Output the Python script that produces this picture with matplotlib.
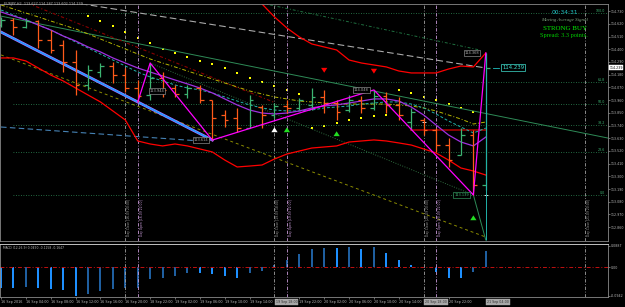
import matplotlib
matplotlib.use("Agg")
import matplotlib.pyplot as plt
import numpy as np

nan = np.nan

# EURJPY H2 bars (16 Sep 2016 00:00 .. 21 Sep 2016 04:00)
opens = [114.610, 114.654, 114.593, 114.645, 114.481, 114.437, 114.290, 114.091, 114.203, 114.255,
         114.177, 114.065, 114.004, 114.151, 114.065, 114.013, 114.065, 113.961, 113.831, 113.805,
         113.718, 113.900, 113.831, 113.909, 113.892, 113.918, 113.987, 113.935, 113.874, 113.961,
         113.892, 113.996, 113.918, 113.770, 113.788, 113.701, 113.571, 113.485, 113.658, 113.225]
highs = [114.680, 114.671, 114.671, 114.654, 114.567, 114.481, 114.394, 114.264, 114.281, 114.290,
         114.238, 114.134, 114.281, 114.203, 114.091, 114.091, 114.091, 113.961, 113.874, 113.892,
         114.004, 113.918, 113.935, 113.961, 113.978, 114.065, 114.048, 113.961, 114.004, 113.996,
         114.048, 114.030, 113.987, 113.892, 113.805, 113.718, 113.632, 113.718, 113.701, 114.368]
lows = [114.593, 114.524, 114.584, 114.411, 114.368, 114.203, 114.004, 114.048, 114.160, 114.108,
        114.030, 113.944, 113.961, 113.987, 113.987, 113.978, 113.935, 113.614, 113.727, 113.684,
        113.718, 113.718, 113.805, 113.848, 113.874, 113.874, 113.848, 113.788, 113.857, 113.848,
        113.874, 113.848, 113.788, 113.701, 113.658, 113.511, 113.381, 113.485, 113.139, 113.181]
closes = [114.654, 114.593, 114.645, 114.481, 114.394, 114.290, 114.091, 114.221, 114.255, 114.177,
          114.065, 113.996, 114.151, 114.048, 114.013, 114.065, 113.961, 113.805, 113.788, 113.718,
          113.961, 113.831, 113.909, 113.892, 113.961, 113.987, 113.935, 113.857, 113.961, 113.892,
          113.996, 113.918, 113.831, 113.857, 113.701, 113.571, 113.441, 113.658, 113.225, 114.239]

# envelope bands (red)
band_upper = [nan] * 19 + [115.044, 114.931, 114.792, 114.680, 114.584, 114.507, 114.446, 114.420,
                           114.394, 114.307, 114.281, 114.264, 114.247, 114.212, 114.195, 114.195,
                           114.195, 114.229, 114.255, 114.247, 114.368]
band_lower = [114.325, 114.325, 114.299, 114.238, 114.177, 114.126, 114.065, 114.004, 113.944, 113.866,
              113.788, 113.606, 113.580, 113.563, 113.580, 113.563, 113.537, 113.511, 113.441, 113.381,
              113.389, 113.398, 113.450, 113.493, 113.519, 113.545, 113.554, 113.563, 113.597, 113.606,
              113.615, 113.606, 113.589, 113.571, 113.537, 113.502, 113.441, 113.372, 113.346, 113.311]
maroon_bars = [33, 39]
maroon_level = 113.701

# moving averages
ma_violet = [114.723, 114.688, 114.654, 114.610, 114.567, 114.515, 114.472, 114.420, 114.377, 114.325,
             114.281, 114.238, 114.203, 114.169, 114.134, 114.100, 114.065, 114.022, 113.970, 113.918,
             113.874, 113.848, 113.840, 113.848, 113.866, 113.892, 113.909, 113.918, 113.935, 113.952,
             113.970, 113.970, 113.952, 113.900, 113.831, 113.744, 113.658, 113.597, 113.563, 113.640]
ma_cyan = [114.740, 114.697, 114.654, 114.610, 114.567, 114.515, 114.463, 114.411, 114.359, 114.307,
           114.255, 114.203, 114.160, 114.126, 114.091, 114.065, 114.048, 114.022, 113.987, 113.952,
           113.918, 113.892, 113.874, 113.866, 113.866, 113.874, 113.892, 113.900, 113.909, 113.926,
           113.935, 113.944, 113.944, 113.926, 113.892, 113.840, 113.779, 113.727, 113.675, 113.718]
ma_olive = [114.784, 114.749, 114.714, 114.680, 114.645, 114.610, 114.576, 114.533, 114.489, 114.446,
            114.403, 114.359, 114.316, 114.281, 114.247, 114.212, 114.177, 114.143, 114.108, 114.074,
            114.039, 114.013, 113.987, 113.970, 113.952, 113.944, 113.935, 113.926, 113.926, 113.926,
            113.926, 113.926, 113.918, 113.909, 113.892, 113.866, 113.831, 113.796, 113.753, 113.770]

# parabolic sar
sar = [nan] * 7 + [114.688, 114.645, 114.602, 114.550, 114.498, 114.455, 114.403, 114.368, 114.333,
                   114.299, 114.273, 114.238, 114.195, 114.151, 114.117, 114.082, 114.048, 114.013,
                   113.718, 113.736, 113.762, 113.788, 113.805, 113.822, 113.831, 114.048, 114.022,
                   113.987, 113.961, 113.926, 113.892, 113.857, nan]

# drawn lines: (bars, prices)
trend_blue = ([0, 17], [114.549, 113.614])
trend_gray = ([4, 39], [114.836, 114.238])
trend_green = ([0, 48.8], [114.687, 113.632])
trend_green_dd = ([19.8, 38.5], [114.827, 114.394])
trend_darkred = ([1.5, 21.9], [114.827, 113.944])
trend_olive = ([0, 39], [114.351, 112.774])
trend_green_dot = ([12, 38], [114.281, 113.139])
trend_green_end = ([38, 39], [113.139, 112.748])
trend_steel = ([0, 16], [113.727, 113.606])

# zigzag pivots
zz_bars = [11, 12, 17, 30, 38, 39]
zz_kind = ['L', 'H', 'L', 'H', 'L', 'H']

# fibo
fib_levels = [0.0, 23.6, 38.2, 50.0, 61.8, 100.0]
fib_low = 113.139
fib_high = 114.714

# signal arrows
down_bars = [26, 30]
down_prices = [114.203, 114.195]
up_bars = [23, 27, 38]
up_prices = [113.718, 113.684, 112.956]
white_up_bar = 22
white_up_price = 113.718
cross_bars = [34, 39]
cross_prices = [113.770, 113.139]

# vertical separators
vline_bars = [10, 11, 22, 23, 34, 35, 47]
vline_pink = [False, True, False, True, False, True, False]
vline_notes = ["Day Close [16.09 20:00]", "Day Open [16.09 22:00]", "Day Close [19.09 18:00]",
               "Day Open [19.09 22:00]", "Day Close [20.09 20:00]", "Day Open [20.09 22:00]",
               "Day Close [21.09 20:00]"]
box_bars = [22, 34, 39]
box_texts = ["19 Sep 18:00", "20 Sep 18:00", "21 Sep 04:00"]

# MACD histogram
macd = [-0.0668, -0.0690, -0.0635, -0.0690, -0.0723, -0.0756, -0.0942, -0.0887, -0.0777, -0.0723,
        -0.0690, -0.0668, -0.0394, -0.0339, -0.0274, -0.0175, -0.0175, -0.0208, -0.0285, -0.0339,
        -0.0175, -0.0110, 0.0077, 0.0241, 0.0438, 0.0602, 0.0646, 0.0624, 0.0668, 0.0602,
        0.0668, 0.0460, 0.0241, 0.0077, -0.0020, -0.0164, -0.0339, -0.0339, -0.0142, 0.0548]
macd_ticks = [0.070, 0.0, -0.094]
macd_labels = ["0.0887", "0.00", "-0.0942"]

# time labels (the ones hidden under the grey boxes are left out)
time_bars = [0, 2, 4, 6, 8, 10, 12, 14, 16, 18, 20, 24, 26, 28, 30, 32, 36]
time_labels = ["16 Sep 2016", "16 Sep 04:00", "16 Sep 08:00", "16 Sep 12:00", "16 Sep 16:00",
               "16 Sep 20:00", "18 Sep 22:00", "19 Sep 02:00", "19 Sep 06:00", "19 Sep 10:00",
               "19 Sep 14:00", "19 Sep 22:00", "20 Sep 02:00", "20 Sep 06:00",
               "20 Sep 10:00", "20 Sep 14:00", "20 Sep 22:00"]
price_ticks = [114.730, 114.620, 114.510, 114.400, 114.290, 114.180, 114.070, 113.960, 113.850,
               113.740, 113.630, 113.520, 113.410, 113.300, 113.190, 113.080, 112.970, 112.860]
current_price = 114.239

GRAY = '#b8b8b8'
BULL = '#3cb371'
BEAR = '#ff5a1a'

fig = plt.figure(figsize=(6.25, 3.07), dpi=100, facecolor='black')
ax = fig.add_axes([0, 1 - 241 / 307, 608 / 625, 237 / 307])
mx = fig.add_axes([0, 1 - 297 / 307, 608 / 625, 53 / 307])
for a in (ax, mx):
    a.set_facecolor('black')
    a.set_xlim(-0.08, 48.83)
    for s in a.spines.values():
        s.set_color('#8a8a8a')
        s.set_linewidth(0.6)
mx.spines['top'].set_color('#e0e0e0')
ax.set_ylim(112.740, 114.792)
mx.set_ylim(-0.0976, 0.0765)

idx = np.arange(len(opens))

# fibo levels
for lv in fib_levels:
    p = fib_low + (fib_high - fib_low) * lv / 100.0
    ax.hlines(p, 1, 48.8, colors='#2e8b57', linestyles=(0, (1, 2)), lw=0.6)
    ax.text(48.6, p, '%.1f' % lv, color='#3cb371', fontsize=2.3, ha='right', va='bottom')

# vertical lines (both panels)
for b, pink, note in zip(vline_bars, vline_pink, vline_notes):
    c = '#c89ad8' if pink else '#a0a0a0'
    for a in (ax, mx):
        a.axvline(b, color=c, lw=0.6, ls=(0, (4, 2, 1, 2)))
    ax.text(b + 0.15, 112.94, note, rotation=90, color=c, fontsize=2.2, ha='left', va='center')

# drawn lines
ax.plot(*trend_gray, color='#a9a9a9', lw=0.8, ls=(0, (6, 3)))
ax.plot(*trend_green, color='#2e8b57', lw=0.7)
ax.plot(*trend_green_dd, color='#1f6f3f', lw=0.7, ls=(0, (3, 2, 1, 2)))
ax.plot(*trend_darkred, color='#8b0000', lw=0.8, ls=(0, (3, 2, 1, 2)))
ax.plot(*trend_olive, color='#8b8b00', lw=0.7, ls=(0, (3, 3)))
ax.plot(*trend_green_dot, color='#2e6b3e', lw=0.7, ls=(0, (1, 1.5)))
ax.plot(*trend_green_end, color='#2e8b57', lw=0.7)
ax.plot(*trend_steel, color='#4682b4', lw=0.8, ls=(0, (5, 3)))

# bands + maroon
ax.plot(idx, band_upper, color='red', lw=0.9)
ax.plot(idx, band_lower, color='red', lw=0.9)
ax.plot(maroon_bars, [maroon_level] * 2, color='#8b0000', lw=1.4)

# moving averages
ax.plot(idx, ma_olive, color='#b5b500', lw=0.7, ls=(0, (4, 2, 1, 2)))
ax.plot(idx, ma_cyan, color='#20b2aa', lw=0.7, ls=(0, (3, 2)))
ax.plot(idx, ma_violet, color='#a030e0', lw=0.9)

# blue trendline
ax.plot(*trend_blue, color='#c060ff', lw=2.0)
ax.plot(*trend_blue, color='#1e9fff', lw=1.2)

# OHLC bars
cols = [BULL if c >= o else BEAR for o, c in zip(opens, closes)]
ax.vlines(idx, lows, highs, colors=cols, lw=0.9)
ax.hlines(opens, idx - 0.3, idx, colors=cols, lw=0.9)
ax.hlines(closes, idx, idx + 0.3, colors=cols, lw=0.9)
# last bar marker line
ax.vlines(idx[-1], 112.748, highs[-1], colors='#20b2aa', lw=0.7)

# zigzag
zz_prices = [highs[b] if k == 'H' else lows[b] for b, k in zip(zz_bars, zz_kind)]
ax.plot(zz_bars, zz_prices, color='#ff00ff', lw=0.9)
zz_offsets = [(14, 8), None, (-8, 0), (-9, 0), (-8.5, 0), (-10, 0)]
for b, p, off in zip(zz_bars, zz_prices, zz_offsets):
    if off is None:
        continue
    c = BULL if b == 38 else '#a8a8a8'
    ax.annotate('%.3f' % p, xy=(b, p), xytext=off, textcoords='offset points', fontsize=2.6,
                color=c, ha='center', va='center',
                bbox=dict(boxstyle='square,pad=0.25', fc='black', ec=c, lw=0.4))

# SAR
ax.scatter(idx, sar, s=2.4, marker='s', color='#ffff00', lw=0)

# arrows
for b, p in zip(down_bars, down_prices):
    ax.annotate('', xy=(b, p - 0.03), xytext=(b, p + 0.035),
                arrowprops=dict(arrowstyle='simple,head_width=0.9,head_length=0.7,tail_width=0.35',
                                color='red', lw=0, mutation_scale=5))
for b, p in zip(up_bars, up_prices):
    ax.annotate('', xy=(b, p + 0.03), xytext=(b, p - 0.035),
                arrowprops=dict(arrowstyle='simple,head_width=0.9,head_length=0.7,tail_width=0.35',
                                color='#22dd22', lw=0, mutation_scale=5))
ax.annotate('', xy=(white_up_bar, white_up_price + 0.03), xytext=(white_up_bar, white_up_price - 0.035),
            arrowprops=dict(arrowstyle='simple,head_width=0.9,head_length=0.7,tail_width=0.35',
                            color='white', lw=0, mutation_scale=5))
ax.scatter(cross_bars, cross_prices, s=6, marker='+', color='white', lw=0.6)

# current price box
ax.plot([39.6, 40.05], [current_price] * 2, color='#20c0c0', lw=0.6)
ax.text(41.2, current_price, '%.3f' % current_price, color='#40e0d0', fontsize=3.9,
        ha='center', va='center',
        bbox=dict(boxstyle='square,pad=0.2', fc='black', ec='#40e0d0', lw=0.5))

# info text top right
ax.text(0.929, 0.964, '00:34:31', transform=ax.transAxes, color='#20c0c0', fontsize=4.3,
        ha='center', va='center')
ax.text(0.928, 0.932, 'Moving Average Signal', transform=ax.transAxes, color='#7fa07f',
        fontsize=3.6, ha='center', va='center', family='Liberation Serif', style='italic')
ax.text(0.929, 0.897, 'STRONG BUY', transform=ax.transAxes, color='#00ee00', fontsize=5.0,
        ha='center', va='center', family='Liberation Serif')
ax.text(0.927, 0.869, 'Spread: 3.3 points.', transform=ax.transAxes, color='#00cc00', fontsize=4.6,
        ha='center', va='center', family='Liberation Serif')

# right price axis
ax.yaxis.tick_right()
ax.set_yticks(price_ticks)
ax.set_yticklabels(['%.3f' % t for t in price_ticks])
ax.tick_params(axis='y', colors=GRAY, labelsize=2.3, length=1.5, width=0.4, pad=0.6)
ax.set_xticks([])
ax.text(1.002, current_price, '%.3f' % current_price, transform=ax.get_yaxis_transform(),
        fontsize=2.3, color='black', ha='left', va='center', clip_on=False,
        bbox=dict(boxstyle='square,pad=0.12', fc='white', ec='white', lw=0.3))

fig.text(0.006, 0.987, 'EURJPY,H2  113.627 114.287 113.602 114.239', color=GRAY, fontsize=2.4,
         va='center')

# MACD panel
mcols = ['#1f5fa0' if i > 0 and macd[i] > macd[i - 1] else '#1e90ff' for i in range(len(macd))]
mx.bar(idx, macd, width=0.16, color=mcols)
mx.axhline(0, color='#c01010', lw=0.7, ls=(0, (4, 2, 1, 2)))
mx.yaxis.tick_right()
mx.set_yticks(macd_ticks)
mx.set_yticklabels(macd_labels)
mx.tick_params(axis='y', colors=GRAY, labelsize=2.3, length=1.5, width=0.4, pad=0.6)
mx.set_xticks(time_bars)
mx.set_xticklabels(time_labels, ha='left')
mx.tick_params(axis='x', colors=GRAY, labelsize=2.4, length=1.5, width=0.4, pad=0.8)
fig.text(0.005, 1 - 248 / 307, 'MACD (12,26,9) 0.0490 -0.1158 -0.1647', color=GRAY, fontsize=2.2,
         va='center')
# grey time boxes of the vertical lines
for b, t in zip(box_bars, box_texts):
    mx.text(b + 0.1, -0.095, t, transform=mx.get_xaxis_transform(), fontsize=2.3, color='#303030',
            ha='left', va='center', clip_on=False,
            bbox=dict(boxstyle='square,pad=0.3', fc='#a8a8a8', ec='#a8a8a8', lw=0.3))

fig.savefig('out.png', dpi=100, facecolor='black')
